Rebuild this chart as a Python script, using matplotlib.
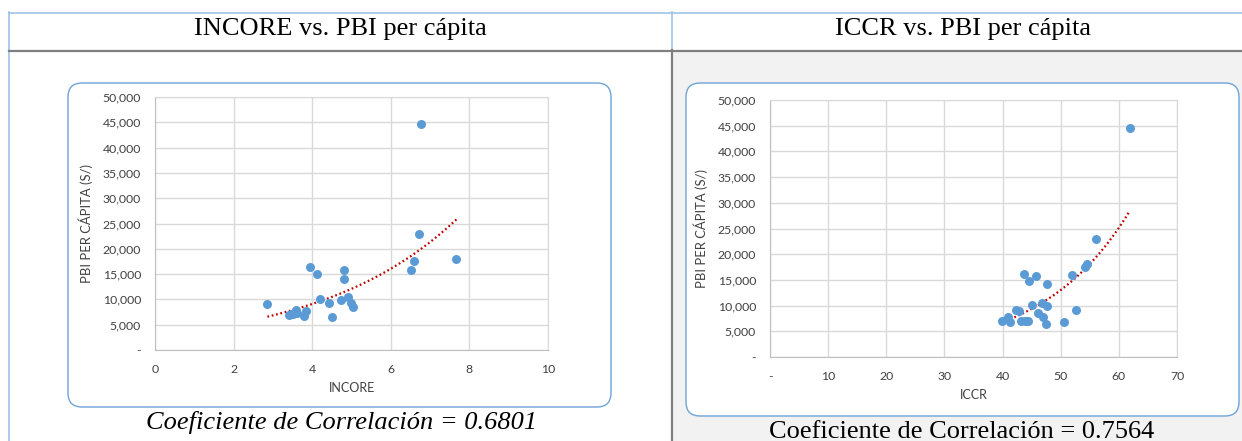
import numpy as np
import matplotlib
matplotlib.use("Agg")
from matplotlib import pyplot as plt
from matplotlib.patches import FancyBboxPatch, Rectangle
from matplotlib.ticker import FuncFormatter

# INCORE vs PBI per capita (S/)
incore = [2.86, 3.41, 3.46, 3.52, 3.57, 3.59, 3.62, 3.80, 3.84, 3.94, 4.13,
          4.21, 4.42, 4.51, 4.74, 4.80, 4.80, 4.92, 4.99, 5.04, 6.52, 6.60,
          6.71, 6.77, 7.67]
pbi_incore = [9040, 6930, 7200, 7060, 7500, 7920, 7260, 6790, 7720, 16360, 15040,
              10090, 9240, 6460, 9830, 15900, 14050, 10550, 9240, 8580, 15900, 17680,
              22890, 44590, 17940]

# ICCR vs PBI per capita (S/)
iccr = [39.9, 41.0, 41.2, 42.3, 42.8, 43.2, 43.6, 43.9, 44.3, 44.5, 45.1, 45.8,
        46.1, 46.7, 46.9, 47.5, 47.6, 47.6, 50.6, 51.9, 52.6, 54.2, 54.5, 56.1, 61.9]
pbi_iccr = [7010, 7860, 6820, 9090, 8960, 7010, 16230, 7010, 7010, 14800, 10070, 15780,
            8640, 10520, 7730, 6490, 14160, 9870, 6820, 16040, 9220, 17600, 18120, 22920, 44610]

titulos = ["INCORE vs. PBI per cápita", "ICCR vs. PBI per cápita"]
correlaciones = [0.6801, 0.7564]

W, H = 1242, 441
fig = plt.figure(figsize=(W / 100, H / 100), dpi=100)

# fondo de la tabla, en pixeles
bg = fig.add_axes([0, 0, 1, 1])
bg.set_xlim(0, W)
bg.set_ylim(H, 0)
bg.axis("off")

azul = "#9dc3e6"
gris = "#7f7f7f"
bg.add_patch(Rectangle((672, 50), W - 672, H - 50, facecolor="#f2f2f2", edgecolor="none"))
bg.plot([9, W], [12.5, 12.5], color=azul, lw=1.2)
bg.plot([8.5, 8.5], [12, H], color=azul, lw=1.2)
bg.plot([672, 672], [12, 50], color=azul, lw=1.2)
bg.plot([672, 672], [50, H], color=gris, lw=1.6)
bg.plot([9, W], [50.5, 50.5], color=gris, lw=1.6)

for (x0, y0, x1, y1) in [(68, 83, 611, 407), (686, 83, 1239, 416)]:
    bg.add_patch(FancyBboxPatch((x0, y0), x1 - x0, y1 - y0,
                                boxstyle="round,pad=0,rounding_size=14",
                                facecolor="white", edgecolor="#6fa3d8", lw=1.0))

serif = dict(family="Liberation Serif", fontsize=19)
bg.text(340, 29, titulos[0], ha="center", va="center", **serif)
bg.text(963, 29, titulos[1], ha="center", va="center", **serif)
bg.text(342, 423, "Coeficiente de Correlación = %.4f" % correlaciones[0], ha="center", va="center",
        style="italic", **serif)
bg.text(962, 432, "Coeficiente de Correlación = %.4f" % correlaciones[1], ha="center", va="center",
        **serif)


def miles(v, pos):
    return "-" if v == 0 else "{:,.0f}".format(v)


def guion(v, pos):
    return "-" if v == 0 else "{:.0f}".format(v)


def entero(v, pos):
    return "{:.0f}".format(v)


def grafico(px, x, y, xmax, xstep, xlabel, xfmt):
    l, t, r, b = px
    ax = fig.add_axes([l / W, 1 - b / H, (r - l) / W, (b - t) / H])
    ax.scatter(x, y, s=42, color="#5b9bd5", zorder=3, linewidths=0)
    # linea de tendencia exponencial (ajuste sobre ln y)
    k, c = np.polyfit(x, np.log(y), 1)
    xt = np.linspace(min(x), max(x), 100)
    ax.plot(xt, np.exp(c) * np.exp(k * xt), color="#c00000", lw=1.6,
            linestyle=(0, (0.8, 1.2)), zorder=2)
    ax.set_xlim(0, xmax)
    ax.set_ylim(0, 50000)
    ax.set_xticks(np.arange(0, xmax + 0.1, xstep))
    ax.set_yticks(np.arange(0, 50001, 5000))
    ax.xaxis.set_major_formatter(FuncFormatter(xfmt))
    ax.yaxis.set_major_formatter(FuncFormatter(miles))
    ax.grid(color="#d9d9d9", lw=1.0)
    ax.set_axisbelow(True)
    for s in ax.spines.values():
        s.set_color("#d9d9d9")
    ax.spines["left"].set_color("#bfbfbf")
    ax.spines["bottom"].set_color("#bfbfbf")
    ax.tick_params(length=0, labelsize=8.8, colors="#404040", pad=10)
    ax.tick_params(axis="x", pad=10)
    for lb in ax.get_xticklabels() + ax.get_yticklabels():
        lb.set_family("Lato")
    ax.set_xlabel(xlabel, family="Lato", fontsize=9, color="#404040", labelpad=5)
    ax.set_ylabel("PBI PER CÁPITA (S/)", family="Lato", fontsize=9.4, color="#404040", labelpad=7)
    return ax


grafico((155, 97, 548, 350), incore, pbi_incore, 10, 2, "INCORE", entero)
grafico((770, 100, 1177, 357), iccr, pbi_iccr, 70, 10, "ICCR", guion)

fig.savefig("out.png", dpi=100)
